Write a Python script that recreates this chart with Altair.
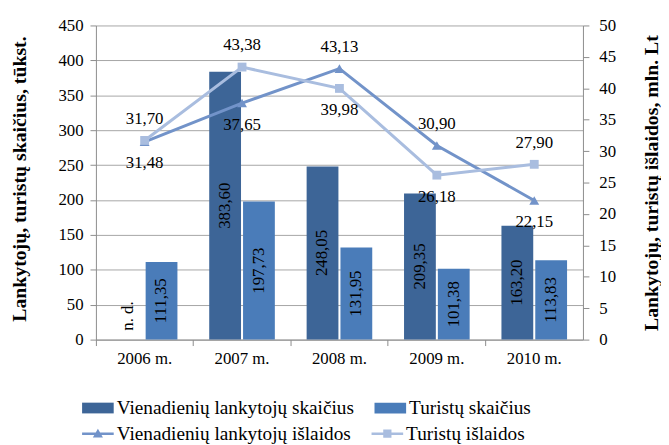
import altair as alt
import pandas as pd

# ---------------- data ----------------
years = ["2006 m.", "2007 m.", "2008 m.", "2009 m.", "2010 m."]
visitors_count = [None, 383.60, 248.05, 209.35, 163.20]   # tūkst.
tourists_count = [111.35, 197.73, 131.95, 101.38, 113.83]  # tūkst.
visitors_spend = [31.48, 37.65, 43.13, 30.90, 22.15]       # mln. Lt
tourists_spend = [31.70, 43.38, 39.98, 26.18, 27.90]       # mln. Lt

bar_series = ["Vienadienių lankytojų skaičius", "Turistų skaičius"]
line_series = ["Vienadienių lankytojų išlaidos", "Turistų išlaidos"]
missing_text = "n. d."

left_ticks = list(range(0, 451, 50))
right_ticks = list(range(0, 51, 5))

# ---------------- styles ----------------
FONT = "Liberation Serif"
BAR_COLORS = ["#3d6597", "#4a7cb9"]
LINE_COLORS = ["#7293c9", "#a9bddf"]
GRID = "#a6a6a6"
AXIS = "#8c8c8c"

RECT_PATH = "M-1,-0.34L1,-0.34L1,0.34L-1,0.34Z"
TRI_LINE = "M-1,-0.08L1,-0.08L1,0.08L-1,0.08Z M0,-0.32L0.32,0.24L-0.32,0.24Z"
SQ_LINE = "M-1,-0.08L1,-0.08L1,0.08L-1,0.08Z M-0.26,-0.26L0.26,-0.26L0.26,0.26L-0.26,0.26Z"


def fmt(v):
    return f"{v:.2f}".replace(".", ",")


# ---------------- tables ----------------
bar_rows = []
for i, y in enumerate(years):
    for s, vals in zip(bar_series, [visitors_count, tourists_count]):
        v = vals[i]
        bar_rows.append({
            "year": y, "series": s,
            "value": v,
            "mid": (v / 2) if v is not None else None,
            "base": 0,
            "label": fmt(v) if v is not None else missing_text,
            "missing": v is None,
        })
bars_df = pd.DataFrame(bar_rows)

line_rows = []
for i, y in enumerate(years):
    a, b = visitors_spend[i], tourists_spend[i]
    line_rows.append({"year": y, "series": line_series[0], "value": a,
                      "label": fmt(a), "pos": "above" if a > b else "below"})
    line_rows.append({"year": y, "series": line_series[1], "value": b,
                      "label": fmt(b), "pos": "above" if b > a else "below"})
lines_df = pd.DataFrame(line_rows)

# ---------------- encodings ----------------
x_enc = alt.X("year:N", sort=years, scale=alt.Scale(paddingInner=0, paddingOuter=0),
              axis=alt.Axis(title=None, bandPosition=0, labelAngle=0, tickSize=6,
                            labelPadding=5, domainColor=AXIS, tickColor=AXIS,
                            labelFont=FONT, labelFontSize=17, labelColor="black"))
x_plain = alt.X("year:N", sort=years)
xoff = alt.XOffset("series:N", sort=bar_series,
                   scale=alt.Scale(domain=bar_series, paddingInner=0.06, paddingOuter=0.47))

left_scale = alt.Scale(domain=[0, 450], nice=False, zero=True)
right_scale = alt.Scale(domain=[0, 50], nice=False, zero=True)

left_axis = alt.Axis(values=left_ticks, grid=True, gridColor=GRID, domainColor=AXIS,
                     tickColor=AXIS, tickSize=6, labelPadding=7,
                     labelFont=FONT, labelFontSize=17, labelColor="black",
                     title="Lankytojų, turistų skaičius, tūkst.", titleFont=FONT,
                     titleFontSize=20, titleFontWeight="bold", titleColor="black",
                     titleAngle=270, titleBaseline="alphabetic", titleAlign="center",
                     titleX=-71.5, titleY=155)
right_axis = alt.Axis(orient="right", values=right_ticks, grid=False, domainColor=AXIS,
                      tickColor=AXIS, tickSize=6, labelPadding=10,
                      labelFont=FONT, labelFontSize=17, labelColor="black",
                      title="Lankytojų, turistų išlaidos, mln. Lt", titleFont=FONT,
                      titleFontSize=20, titleFontWeight="bold", titleColor="black",
                      titleAngle=270, titleBaseline="alphabetic", titleAlign="center",
                      titleX=75, titleY=159)

legend_common = dict(title=None, orient="none", legendX=-14, direction="horizontal",
                     symbolSize=1024, symbolStrokeWidth=0, labelFont=FONT,
                     labelFontSize=19.5, labelColor="black", labelOffset=3,
                     columnPadding=20, labelLimit=400, padding=0)

bar_color = alt.Color("series:N", scale=alt.Scale(domain=bar_series, range=BAR_COLORS),
                      legend=alt.Legend(legendY=371, symbolType=RECT_PATH, **legend_common))
line_color_nolegend = alt.Color("series:N",
                                scale=alt.Scale(domain=line_series, range=LINE_COLORS),
                                legend=None)

# ---------------- layers ----------------
bars = alt.Chart(bars_df).mark_bar().encode(
    x=x_enc, xOffset=xoff,
    y=alt.Y("value:Q", scale=left_scale, axis=left_axis),
    color=bar_color,
)

bar_labels = alt.Chart(bars_df).transform_filter("!datum.missing").mark_text(
    angle=270, align="center", baseline="middle", font=FONT, fontSize=17, color="black"
).encode(
    x=x_plain, xOffset=xoff,
    y=alt.Y("mid:Q", scale=left_scale, axis=None),
    text="label:N",
)

missing_labels = alt.Chart(bars_df).transform_filter("datum.missing").mark_text(
    angle=270, align="left", baseline="middle", dx=9, font=FONT, fontSize=17, color="black"
).encode(
    x=x_plain, xOffset=xoff,
    y=alt.Y("base:Q", scale=left_scale, axis=None),
    text="label:N",
)

lines = alt.Chart(lines_df).mark_line(strokeWidth=3).encode(
    x=x_plain,
    y=alt.Y("value:Q", scale=right_scale, axis=right_axis),
    color=line_color_nolegend,
    detail="series:N",
)

tri_pts = alt.Chart(lines_df).transform_filter(
    alt.datum.series == line_series[0]).mark_point(
    shape="triangle-up", filled=True, size=100, opacity=1).encode(
    x=x_plain, y=alt.Y("value:Q", scale=right_scale, axis=None),
    color=line_color_nolegend)

sq_pts = alt.Chart(lines_df).transform_filter(
    alt.datum.series == line_series[1]).mark_point(
    shape="square", filled=True, size=80, opacity=1).encode(
    x=x_plain, y=alt.Y("value:Q", scale=right_scale, axis=None),
    color=line_color_nolegend)

above = alt.Chart(lines_df).transform_filter(alt.datum.pos == "above").mark_text(
    dy=-22, font=FONT, fontSize=17, color="black").encode(
    x=x_plain, y=alt.Y("value:Q", scale=right_scale, axis=None), text="label:N")

below = alt.Chart(lines_df).transform_filter(alt.datum.pos == "below").mark_text(
    dy=22, font=FONT, fontSize=17, color="black").encode(
    x=x_plain, y=alt.Y("value:Q", scale=right_scale, axis=None), text="label:N")

line_legend = alt.Legend(legendY=397, symbolOpacity=1, **legend_common)
legend_layer = alt.Chart(lines_df).mark_point(filled=True, opacity=0).encode(
    x=x_plain, y=alt.Y("value:Q", scale=right_scale, axis=None),
    color=alt.Color("series:N", scale=alt.Scale(domain=line_series, range=LINE_COLORS),
                    legend=line_legend),
    shape=alt.Shape("series:N", scale=alt.Scale(domain=line_series, range=[TRI_LINE, SQ_LINE]),
                    legend=line_legend),
)

chart = alt.layer(
    bars, bar_labels, missing_labels, lines, tri_pts, sq_pts, above, below, legend_layer
).resolve_scale(
    y="independent", color="independent", shape="independent"
).properties(
    width=493, height=318,
    autosize=alt.AutoSizeParams(type="none"),
    padding={"left": 89, "top": 15, "right": 79, "bottom": 104},
    background="white",
).configure_view(stroke=None)

chart.save("out.html", embed_options={"renderer": "svg", "actions": False})
